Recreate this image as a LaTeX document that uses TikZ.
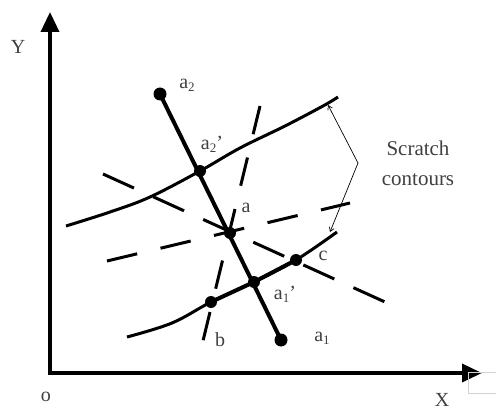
\documentclass[tikz,border=0pt]{standalone}
\usepackage{fontspec}
\setmainfont{Liberation Serif}
\usetikzlibrary{arrows.meta}
\newcommand\lsub[1]{\raisebox{-0.35ex}{\fontsize{13}{13}\selectfont #1}}
\begin{document}
\begin{tikzpicture}[x=1pt,y=-1pt,
  axis/.style={line width=3.6pt,line join=miter,{Triangle[length=20pt,width=18pt]}-{Triangle[length=20pt,width=18pt]}},
  contour/.style={line width=3pt},
  mainline/.style={line width=4pt},
  dashline/.style={line width=3pt},
  dot/.style={circle,fill=black,inner sep=0pt,minimum size=13pt},
  idot/.style={circle,fill=black,inner sep=0pt,minimum size=12pt},
  lbl/.style={inner sep=0pt,text=black!75,font=\fontsize{20}{22}\selectfont},
  bracketline/.style={line width=0.7pt,{Straight Barb[length=4pt,width=5pt]}-{Straight Barb[length=4pt,width=5pt]}}]
\useasboundingbox (0,0) rectangle (496,412);
% axes
\coordinate (O) at (50,373);
\coordinate (Ytip) at (50,12);
\coordinate (Xtip) at (482,373);
\draw[axis] (Ytip) -- (O) -- (Xtip);
\node[lbl] (ylab) at (18,47) {Y};
\node[lbl] (olab) at (46,397) {o};
\node[lbl] (xlab) at (442,400) {X};
\draw[gray!35,line width=0.8pt] (496,372) -- (468,372) -- (468,393) -- (496,393);
% key points
\coordinate (a2) at (160,94);
\coordinate (a2p) at (200,171);
\coordinate (a) at (230,233);
\coordinate (a1p) at (254,282);
\coordinate (a1) at (281,340);
\coordinate (c) at (296,260);
\coordinate (b) at (211,302);
% dashed lines
\draw[dashline,dash pattern=on 34pt off 21pt] (103,174) -- (385,302);
\draw[dashline,dash pattern=on 31pt off 24pt] (107,261) -- (350,203);
\draw[dashline,dash pattern=on 29pt off 24pt] (260,106) -- (202,345);
% contours
\draw[contour] plot[smooth,tension=0.6] coordinates {(66,226) (110,212) (150,197) (a2p) (240,148) (285,126) (323,106) (338,97)};
\draw[contour] plot[smooth,tension=0.6] coordinates {(127,337) (172,323) (b) (a1p) (c) (337,232)};
\draw[mainline] (b) -- (a1p) -- (c);
% main line
\draw[mainline] (a2) -- (a1);
% dots
\node[dot] (na2) at (a2) {};
\node[dot] (na1) at (a1) {};
\node[idot] (na2p) at (a2p) {};
\node[idot] (na) at (a) {};
\node[idot] (na1p) at (a1p) {};
\node[idot] (nc) at (c) {};
\node[idot] (nb) at (b) {};
% labels
\node[lbl] (la2) at (187,85) {a\lsub{2}};
\node[lbl] (la2p) at (212,144) {a\lsub{2}'};
\node[lbl] (la) at (246,208) {a};
\node[lbl] (la1p) at (285,294) {a\lsub{1}'};
\node[lbl] (la1) at (322,338) {a\lsub{1}};
\node[lbl] (lc) at (323,256) {c};
\node[lbl] (lb) at (220,340) {b};
% bracket
\coordinate (s1) at (328,105);
\coordinate (s2) at (358,163);
\coordinate (s3) at (330,232);
\draw[bracketline] (s1) -- (s2) -- (s3);
\node[inner sep=0pt,text=black!75,align=center,font=\fontsize{21}{30}\selectfont] (sc) at (418,163) {Scratch\\contours};
\end{tikzpicture}
\end{document}
